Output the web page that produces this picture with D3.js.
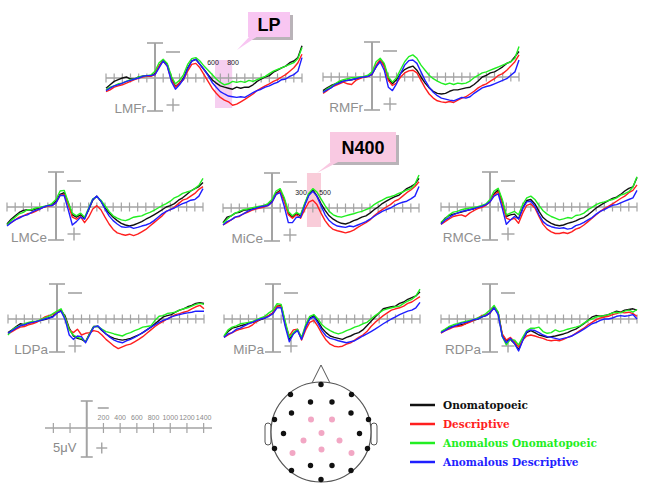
<!DOCTYPE html>
<html><head><meta charset="utf-8">
<script src="https://cdn.jsdelivr.net/npm/d3@7"></script>
<style>html,body{margin:0;padding:0;background:#fff;} svg{display:block;}</style>
</head><body>
<svg id="c" width="645" height="491"></svg>
<script>
// ---------- DATA ----------
const times = d3.range(-600, 1801, 50); // ms, sampling of every waveform
const conditions = ["Onomatopoeic", "Descriptive", "Anomalous Onomatopoeic", "Anomalous Descriptive"];
const condColors = ["#111111", "#ff1f1f", "#22ee22", "#1f1fff"];
const electrodes = ["LMFr", "RMFr", "LMCe", "MiCe", "RMCe", "LDPa", "MiPa", "RDPa"];

// amplitudes in microvolts (negative plotted up)
const LMFr_ON = [1.5,1.0,0.5,0.25,0,-0.15,0.15,0.15,-0.15,-0.25,-0.35,-0.35,-0.65,-1.75,-2.65,-2.0,0,1.25,0.75,0,-1.5,-2.5,-2.75,-2.0,-1.25,-0.5,0.25,0.75,1.15,1.35,1.5,1.65,1.35,1.5,1.35,1.35,1.0,0.5,0.15,-0.15,-0.35,-0.85,-1.15,-1.5,-1.75,-2.25,-2.5,-3.0,-4.75];
const LMFr_DE = [2.0,1.75,1.35,1.15,1.0,0.75,0.5,0.25,0,-0.15,-0.25,-0.25,-0.5,-1.75,-2.5,-1.75,0.25,1.35,0.75,0.25,-1.0,-2.0,-2.15,-1.5,-0.5,0.5,1.5,2.25,2.85,3.25,3.5,4.0,3.85,3.5,3.15,2.75,2.35,1.85,1.5,1.15,0.85,0.5,0.25,-0.15,-0.5,-1.0,-1.5,-2.25,-3.5];
const LMFr_AO = [1.75,1.35,1.15,0.85,0.75,0.5,0.25,0.15,-0.15,-0.25,-0.35,-0.45,-1.0,-2.25,-2.75,-2.15,-0.25,0.85,0.35,-0.5,-2.0,-2.85,-3.0,-2.5,-1.75,-1.15,-0.5,0.15,0.65,1.0,0.85,0.5,0.65,0.5,0.65,0.35,0.5,0.25,0,-0.25,-0.65,-1.0,-1.25,-1.5,-1.75,-2.0,-2.25,-2.85,-4.5];
const LMFr_AD = [1.85,1.5,1.15,1.0,0.75,0.5,0.35,0.15,0,-0.25,-0.35,-0.35,-0.5,-1.5,-2.5,-1.75,0.5,1.65,1.0,0.15,-1.35,-2.5,-2.75,-2.0,-1.25,-0.35,0.65,1.35,2.0,2.35,2.65,2.75,2.85,2.75,2.85,2.5,2.15,1.85,1.65,1.35,1.15,0.85,0.65,0.25,0.15,-0.25,-0.5,-1.0,-3.0];

const RMFr_ON = [2.0,1.6,1.25,1.0,0.75,0.6,0.5,0.4,0.25,0.1,0,-0.1,-0.4,-1.5,-2.5,-1.75,0.25,1.0,0.4,-0.5,-1.1,-1.4,-1.6,-1.0,0,0.9,1.6,2.1,2.4,2.5,2.4,2.1,1.9,1.9,1.75,1.6,1.5,1.1,0.6,0,-0.25,-0.6,-0.75,-1.1,-1.5,-2.0,-2.25,-3.0,-3.75];
const RMFr_DE = [2.4,2.0,1.5,1.25,1.0,0.75,1.0,1.1,0.5,0.25,0,-0.1,-0.4,-1.75,-2.6,-1.5,0.5,1.25,0.9,0,-0.6,-0.9,-1.0,-0.6,0.5,1.6,2.5,3.1,3.5,3.65,3.75,3.6,3.75,3.4,3.1,2.9,2.5,2.1,1.6,1.25,1.0,0.6,0.25,-0.25,-0.5,-1.0,-1.6,-2.25,-3.25];
const RMFr_AO = [2.25,1.75,1.4,1.0,0.6,0.4,0.25,0.1,0.1,0,-0.1,-0.25,-0.75,-2.25,-2.75,-2.0,0,0.75,0.1,-1.1,-2.25,-3.0,-3.25,-2.75,-1.75,-1.0,-0.25,0.25,0.6,0.9,1.1,0.9,1.1,0.9,1.0,0.9,0.6,0.1,-0.25,-0.6,-0.75,-1.0,-1.25,-1.5,-1.75,-2.0,-2.25,-2.75,-4.5];
const RMFr_AD = [2.25,1.9,1.6,1.1,0.9,0.6,0.5,0.4,0.25,0.1,0,-0.1,-0.4,-1.5,-2.25,-1.0,1.5,2.0,1.0,-0.5,-1.75,-2.4,-2.5,-2.0,-0.75,0.5,1.5,2.25,2.75,3.1,3.25,3.4,3.5,3.25,3.0,3.1,2.9,2.4,2.0,1.6,1.4,1.25,1.0,0.75,0.5,0.25,-0.25,-0.75,-2.5];

const LMCe_ON = [2.5,1.8,1.3,0.8,0.5,0.4,0.5,0.3,0.15,0,-0.2,-0.35,-0.85,-1.85,-2.1,-0.6,1.15,1.5,1.15,1.65,0.4,-1.0,-1.6,-0.85,0.15,0.9,1.5,2.0,2.4,2.65,2.8,2.65,2.4,2.15,1.8,1.5,1.15,0.8,0.4,0,-0.2,-0.5,-1.0,-1.35,-1.85,-2.35,-2.7,-3.0,-3.6];
const LMCe_DE = [2.65,2.3,1.9,1.5,1.3,1.0,0.9,0.65,0.3,0,-0.1,-0.2,-0.6,-1.7,-1.85,-0.35,1.5,1.8,1.4,2.3,1.5,0.3,-0.2,0.4,1.5,2.5,3.3,3.8,4.0,4.15,4.0,4.2,4.0,3.65,3.3,2.8,2.3,1.8,1.3,0.65,0.4,0,-0.5,-1.0,-1.2,-1.6,-2.0,-2.6,-3.0];
const LMCe_AO = [2.65,2.0,1.5,1.0,0.8,0.4,0.4,0.15,0.05,-0.1,-0.2,-0.5,-1.1,-2.35,-2.45,-0.7,0.9,1.3,0.9,1.5,0.15,-1.2,-1.5,-1.0,-0.2,0.65,1.3,1.65,1.9,2.0,1.8,1.5,1.4,1.3,1.0,0.8,0.5,0.15,-0.2,-0.5,-0.85,-1.35,-1.6,-2.0,-2.2,-2.35,-2.7,-3.2,-4.2];
const LMCe_AD = [2.8,2.3,1.9,1.65,1.3,1.15,0.8,0.5,0.3,0,-0.2,-0.2,-0.6,-1.7,-1.7,0.4,2.65,2.15,1.5,1.8,0.3,-1.1,-1.6,-0.85,0.3,1.3,2.0,2.5,2.9,3.0,2.9,3.15,3.0,2.8,2.65,2.4,2.0,1.5,1.0,0.65,0.4,0.15,-0.2,-0.5,-0.7,-1.0,-1.1,-1.6,-2.7];

const MiCe_ON = [2.15,1.35,1.15,0.75,0.65,0.35,0.25,0.15,0,-0.15,-0.35,-0.5,-1.0,-2.15,-2.6,-1.25,0.75,1.35,0.75,1.15,-0.5,-2.0,-2.65,-1.75,-0.65,0.35,1.15,1.65,2.0,2.25,2.35,2.15,1.85,1.65,1.35,1.15,0.75,0.25,-0.15,-0.65,-1.0,-1.35,-1.65,-1.85,-2.35,-2.85,-3.15,-3.5,-4.35];
const MiCe_DE = [2.5,2.15,1.75,1.35,1.25,0.85,0.65,0.35,0.15,0,-0.15,-0.35,-0.85,-2.0,-2.45,-1.0,1.0,1.5,1.0,1.5,0.25,-0.85,-1.15,-0.5,0.75,1.85,2.65,3.15,3.35,3.5,3.65,3.5,3.25,2.85,2.5,2.15,1.75,1.15,0.65,0.25,-0.15,-0.5,-1.0,-1.25,-1.75,-2.25,-2.65,-3.15,-3.85];
const MiCe_AO = [2.25,1.65,1.15,0.75,0.5,0.25,0.15,0,-0.15,-0.25,-0.35,-0.65,-1.25,-2.5,-2.85,-1.5,0.5,1.15,0.65,1.0,-0.65,-2.15,-2.85,-2.35,-1.35,-0.35,0.5,1.0,1.25,1.35,1.15,1.0,0.85,0.65,0.5,0.25,0,-0.5,-0.85,-1.15,-1.5,-1.65,-1.85,-2.15,-2.35,-2.65,-2.85,-3.5,-4.85];
const MiCe_AD = [2.5,2.0,1.75,1.35,1.15,0.85,0.5,0.25,0.05,-0.15,-0.25,-0.35,-0.85,-2.0,-2.25,-0.25,2.15,2.15,1.35,1.35,-0.35,-1.85,-2.45,-1.75,-0.35,1.0,1.85,2.35,2.65,2.75,2.85,2.65,2.75,2.5,2.25,2.0,1.65,1.25,0.85,0.5,0.25,0,-0.35,-0.65,-0.85,-1.0,-1.35,-1.75,-3.15];

const RMCe_ON = [2.4,1.65,1.25,1.05,0.9,0.75,0.55,0.4,0.25,0.05,-0.1,-0.35,-0.85,-1.95,-2.55,-0.85,1.4,1.15,1.05,1.75,0.15,-0.95,-1.1,-0.45,0.65,1.55,2.05,2.4,2.65,2.75,2.65,2.4,2.25,2.05,1.75,1.55,1.15,0.65,0.15,-0.25,-0.6,-0.95,-1.25,-1.45,-1.85,-2.35,-2.75,-2.95,-4.35];
const RMCe_DE = [2.55,2.15,1.75,1.4,1.25,1.15,1.4,0.9,0.55,0.25,0.05,-0.25,-0.75,-1.75,-2.25,-0.45,1.65,1.9,1.65,2.4,0.9,-0.25,-0.45,0.15,1.4,2.55,3.25,3.65,3.9,3.9,3.75,3.9,3.65,3.25,3.05,2.65,2.15,1.65,1.15,0.65,0.25,-0.1,-0.45,-0.85,-1.25,-1.6,-2.1,-2.45,-3.25];
const RMCe_AO = [2.25,1.75,1.15,0.75,0.65,0.4,0.25,0.15,0.05,-0.05,-0.25,-0.45,-1.1,-2.35,-2.75,-1.1,1.15,0.9,0.65,1.15,-0.35,-1.35,-1.6,-1.1,-0.25,0.55,1.05,1.4,1.65,1.9,1.75,1.55,1.65,1.25,1.15,0.9,0.4,0.05,-0.35,-0.6,-0.75,-0.95,-1.1,-1.35,-1.75,-1.95,-2.25,-2.95,-4.45];
const RMCe_AD = [2.55,1.9,1.55,1.15,0.9,0.65,0.55,0.4,0.25,0.05,-0.1,-0.35,-0.75,-1.6,-1.95,0.15,2.55,1.9,1.4,1.75,0.25,-0.75,-0.85,-0.1,1.15,2.15,2.65,2.9,3.05,3.15,3.05,3.25,3.15,2.75,2.55,2.25,1.9,1.55,1.05,0.65,0.4,0.05,-0.25,-0.35,-0.6,-0.85,-1.1,-1.35,-2.45];

const LDPa_ON = [2.0,1.6,1.1,0.7,0.85,0.6,0.5,0.35,0.2,0.1,-0.15,-0.4,-0.9,-1.3,-0.4,1.35,2.5,2.85,3.0,3.35,2.1,1.1,1.1,1.7,2.2,2.6,2.85,3.0,3.1,3.0,2.85,2.6,2.35,2.0,1.6,1.2,0.7,0.2,-0.3,-0.5,-0.65,-1.0,-1.3,-1.5,-1.8,-2.0,-2.3,-2.4,-2.3];
const LDPa_DE = [2.2,1.85,1.5,1.2,1.1,0.85,0.7,0.5,0.1,-0.3,-0.5,-0.65,-1.0,-1.15,-0.15,1.6,2.0,1.5,2.35,2.1,2.0,1.7,1.85,2.35,3.0,3.5,4.0,4.35,4.1,3.85,3.7,3.35,3.0,2.6,2.1,1.6,1.1,0.7,0.35,0,-0.3,-0.65,-0.8,-1.0,-1.15,-1.5,-1.8,-2.0,-1.5];
const LDPa_AO = [2.35,1.6,1.2,1.0,0.7,0.5,0.35,0.35,0.1,-0.15,-0.4,-0.8,-1.15,-1.5,-0.15,1.6,2.35,2.7,2.85,3.35,2.2,1.1,1.1,1.5,1.85,2.0,2.2,2.35,2.5,2.2,2.0,1.7,1.5,1.2,1.1,1.0,0.2,-0.4,-0.5,-0.8,-0.9,-1.0,-1.3,-1.5,-1.65,-1.9,-2.15,-2.3,-2.15];
const LDPa_AD = [2.1,1.7,1.35,1.0,0.85,0.6,0.5,0.35,0.2,0,-0.15,-0.3,-0.9,-1.15,0.1,2.35,3.0,2.5,2.6,3.5,2.35,1.2,1.0,1.6,2.2,2.7,3.1,3.35,3.5,3.2,3.0,2.7,2.35,2.0,1.6,1.2,0.85,0.5,0.2,0,-0.3,-0.5,-0.65,-0.8,-0.9,-1.0,-1.15,-1.15,-1.15];

const MiPa_ON = [2.6,1.85,1.35,1.2,1.0,0.85,0.6,0.5,0.35,0.1,-0.15,-0.5,-0.9,-1.9,-2.0,0.6,3.0,2.1,1.6,2.85,1.1,-0.15,-0.5,0.35,1.35,2.0,2.5,2.7,2.85,3.0,2.7,2.5,2.2,2.0,1.6,1.0,0.35,-0.3,-0.9,-1.5,-1.65,-1.8,-1.9,-2.3,-2.5,-2.9,-3.15,-3.4,-4.0];
const MiPa_DE = [2.7,2.35,2.0,1.7,1.5,1.35,1.2,0.85,0.35,0,-0.3,-0.5,-0.9,-1.9,-1.9,0.85,2.5,1.6,1.5,3.1,1.6,0.5,0.2,1.1,2.2,3.1,3.7,4.0,4.1,4.0,3.7,3.5,3.1,2.7,2.35,1.85,1.1,0.5,0,-0.5,-0.9,-1.3,-1.5,-1.65,-1.9,-2.3,-2.5,-2.9,-3.3];
const MiPa_AO = [2.5,1.6,1.2,1.0,0.7,0.6,0.5,0.35,0.1,-0.15,-0.4,-0.9,-1.3,-2.25,-2.15,0.35,2.7,2.0,1.5,2.7,0.85,-0.4,-0.65,0,0.85,1.35,1.7,2.0,2.2,2.0,1.7,1.5,1.2,1.0,0.7,0.5,0,-0.5,-0.9,-1.3,-1.5,-1.65,-1.8,-1.9,-2.3,-2.65,-2.9,-3.4,-4.4];
const MiPa_AD = [2.7,2.2,2.0,1.5,1.35,1.0,0.7,0.5,0.2,0,-0.15,-0.4,-0.8,-1.65,-1.65,1.1,3.35,2.2,1.7,3.0,1.2,0,-0.3,0.6,1.7,2.5,2.85,3.0,3.2,3.35,3.5,3.35,3.2,2.85,2.5,2.2,1.85,1.5,1.1,0.7,0.35,0,-0.3,-0.65,-0.9,-1.15,-1.3,-1.65,-2.45];

const RDPa_ON = [2.0,1.6,1.2,1.1,1.0,0.85,0.7,0.35,0.2,0,-0.3,-0.5,-0.9,-1.8,-0.9,2.35,3.2,3.0,3.6,4.5,3.1,2.0,1.7,2.0,2.35,2.5,2.7,2.6,2.5,2.35,2.2,2.0,1.7,1.5,1.1,0.7,0.2,-0.3,-0.5,-0.4,-0.5,-0.65,-0.9,-1.15,-1.0,-1.3,-1.4,-1.5,-1.3];
const RDPa_DE = [2.1,1.7,1.5,1.2,1.1,1.0,0.7,0.5,0.2,-0.15,-0.5,-0.65,-0.9,-1.65,-0.9,2.2,3.1,2.7,3.35,4.1,3.1,2.5,2.35,2.5,2.7,2.85,3.1,3.2,3.1,3.2,3.0,2.7,2.5,2.1,1.7,1.35,0.85,0.5,0.1,-0.15,-0.3,-0.4,-0.65,-0.8,-1.0,-0.9,-1.0,-0.8,-0.4];
const RDPa_AO = [1.85,1.5,1.1,0.85,0.7,0.5,0.35,0.2,0.1,-0.15,-0.4,-0.8,-1.3,-2.0,-1.0,2.55,3.8,3.0,3.1,3.8,2.7,1.7,1.35,1.35,1.2,1.85,2.1,2.0,1.6,1.85,1.7,1.5,1.35,1.2,1.0,0.6,0.2,0,-0.3,-0.4,-0.5,-0.65,-0.9,-1.0,-0.9,-1.15,-1.3,-1.0,-1.4];
const RDPa_AD = [2.0,1.7,1.35,1.1,0.85,0.6,0.5,0.35,0.1,0,-0.3,-0.5,-0.9,-1.65,-0.65,2.55,3.5,2.85,3.6,4.7,3.2,1.85,1.6,1.7,2.0,2.35,2.6,2.7,2.85,3.0,2.85,2.7,2.5,2.2,1.85,1.5,1.1,0.7,0.5,0.2,0,0,-0.15,-0.4,-0.5,-0.4,-0.5,-0.65,0];

const seriesByElectrode = {
  LMFr: [LMFr_ON, LMFr_DE, LMFr_AO, LMFr_AD],
  RMFr: [RMFr_ON, RMFr_DE, RMFr_AO, RMFr_AD],
  LMCe: [LMCe_ON, LMCe_DE, LMCe_AO, LMCe_AD],
  MiCe: [MiCe_ON, MiCe_DE, MiCe_AO, MiCe_AD],
  RMCe: [RMCe_ON, RMCe_DE, RMCe_AO, RMCe_AD],
  LDPa: [LDPa_ON, LDPa_DE, LDPa_AO, LDPa_AD],
  MiPa: [MiPa_ON, MiPa_DE, MiPa_AO, MiPa_AD],
  RDPa: [RDPa_ON, RDPa_DE, RDPa_AO, RDPa_AD]
};

// highlighted analysis windows (ms) and their printed labels
const windows = [
  {electrode: "LMFr", start: 735, end: 945, labels: ["600", "800"], labelAt: [710, 955], title: "LP"},
  {electrode: "MiCe", start: 428, end: 600, labels: ["300", "500"], labelAt: [355, 649], title: "N400"}
];

// scale-bar panel
const scaleTicks = [-400, -200, 200, 400, 600, 800, 1000, 1200, 1400];
const scaleLabels = ["200", "400", "600", "800", "1000", "1200", "1400"];

// electrode montage (normalized head coords, x right, y down; pink = shown sites)
const montageBlack = [[0,-0.95],[-0.61,-0.75],[0.61,-0.75],[-0.21,-0.6],[0.22,-0.6],[-0.59,-0.38],[0.6,-0.38],[-0.93,-0.25],[0.95,-0.25],[-0.75,0.03],[0.77,0.03],[-0.93,0.33],[0.93,0.33],[-0.59,0.77],[0.6,0.77],[-0.21,0.67],[0.22,0.67],[0,0.95]];
const montagePink = [[-0.2,-0.25],[0.22,-0.25],[0.01,0.02],[-0.35,0.17],[0.37,0.17],[0.01,0.35],[-0.57,0.42],[0.61,0.42]];

// ---------- LAYOUT ----------
const panelPos = {
  LMFr: {x: 155, y: 78}, RMFr: {x: 372, y: 77},
  LMCe: {x: 56, y: 207}, MiCe: {x: 272, y: 208}, RMCe: {x: 490, y: 207},
  LDPa: {x: 57, y: 319}, MiPa: {x: 273, y: 319}, RDPa: {x: 490, y: 319}
};
const AX = "#a3a3a3";
const svg = d3.select("#c");

function drawFrame(g, x, zeroX, axisY, tickVals, opt) {
  const [x0, x1] = x.range();
  g.append("line").attr("x1", x0).attr("x2", x1).attr("y1", axisY).attr("y2", axisY)
    .attr("stroke", AX).attr("stroke-width", 1.6);
  g.selectAll(null).data(tickVals).join("line")
    .attr("x1", d => x(d)).attr("x2", d => x(d))
    .attr("y1", axisY - opt.tick).attr("y2", axisY + opt.tick)
    .attr("stroke", AX).attr("stroke-width", 1.2);
  // vertical voltage axis
  g.append("line").attr("x1", zeroX).attr("x2", zeroX).attr("y1", axisY - opt.up).attr("y2", axisY + opt.down)
    .attr("stroke", AX).attr("stroke-width", 2);
  [axisY - opt.up, axisY + opt.down].forEach(yy => g.append("line")
    .attr("x1", zeroX - opt.cap).attr("x2", zeroX + opt.cap).attr("y1", yy).attr("y2", yy)
    .attr("stroke", AX).attr("stroke-width", 1.6));
  // minus sign
  g.append("line").attr("x1", zeroX + opt.mx0).attr("x2", zeroX + opt.mx1)
    .attr("y1", axisY - opt.my).attr("y2", axisY - opt.my).attr("stroke", AX).attr("stroke-width", 1.6);
  // plus sign
  const pcx = zeroX + opt.px, pcy = axisY + opt.py;
  g.append("line").attr("x1", pcx - opt.pa).attr("x2", pcx + opt.pa).attr("y1", pcy).attr("y2", pcy).attr("stroke", AX).attr("stroke-width", 1.4);
  g.append("line").attr("x1", pcx).attr("x2", pcx).attr("y1", pcy - opt.pa).attr("y2", pcy + opt.pa).attr("stroke", AX).attr("stroke-width", 1.4);
}

const panelOpt = {tick: 4.5, up: 35, down: 33, cap: 8, mx0: 11, mx1: 25, my: 26, px: 18, py: 27, pa: 6.5};
const tickTimes = d3.range(-600, 1801, 100);

electrodes.forEach(name => {
  const p = panelPos[name];
  const x = d3.scaleLinear().domain([-600, 1800]).range([p.x - 49, p.x + 147]);
  const y = d3.scaleLinear().domain([-5, 5]).range([p.y - 34, p.y + 34]);
  const g = svg.append("g");

  // analysis window strip (beneath everything)
  windows.filter(w => w.electrode === name).forEach(w => {
    const isLP = w.title === "LP";
    g.append("rect").attr("x", x(w.start)).attr("width", x(w.end) - x(w.start))
      .attr("y", isLP ? p.y - 18 : p.y - 35).attr("height", isLP ? 48 : 54)
      .attr("fill", isLP ? "#f6cff0" : "#f9ccd9");
  });

  drawFrame(g, x, p.x, p.y, tickTimes, panelOpt);

  g.append("text").attr("x", p.x - 9).attr("y", p.y + 35).attr("text-anchor", "end")
    .attr("font-family", "Liberation Sans, Arial, sans-serif").attr("font-size", 13.5)
    .attr("fill", "#8f8f8f").text(name);

  const line = d3.line().x((d) => x(d[0])).y(d => y(d[1]));
  seriesByElectrode[name].forEach((vals, ci) => {
    const pts = vals.slice(0, times.length).map((v, i) => [times[i], v]);
    g.append("path").attr("d", line(pts)).attr("fill", "none")
      .attr("stroke", condColors[ci]).attr("stroke-width", 1.4).attr("stroke-linejoin", "round");
  });

  windows.filter(w => w.electrode === name).forEach(w => {
    w.labels.forEach((lab, i) => g.append("text").attr("x", x(w.labelAt[i])).attr("y", p.y - 13)
      .attr("text-anchor", "middle").attr("font-family", "Liberation Sans, Arial, sans-serif")
      .attr("font-size", 7).attr("fill", "#222").text(lab));
  });
});

// callout boxes
function callout(bx, by, bw, bh, tip, fill, label) {
  const g = svg.append("g");
  g.append("rect").attr("x", bx + 3).attr("y", by + 3).attr("width", bw).attr("height", bh).attr("fill", "#b9b3b8");
  g.append("polygon").attr("points", `${bx + 2},${by + bh - 1} ${bx + 10},${by + bh - 1} ${tip[0]},${tip[1]}`).attr("fill", fill);
  g.append("rect").attr("x", bx).attr("y", by).attr("width", bw).attr("height", bh).attr("fill", fill);
  g.append("text").attr("x", bx + bw / 2).attr("y", by + bh / 2 + 6.5).attr("text-anchor", "middle")
    .attr("font-family", "Liberation Sans, Arial, sans-serif").attr("font-weight", "bold")
    .attr("font-size", 18).attr("fill", "#000").text(label);
}
callout(248, 12, 42, 25, [237, 50], "#f8c6f2", "LP");
callout(330, 132, 66, 30, [317, 173], "#f9c9e2", "N400");

// scale bar panel
(function () {
  const zeroX = 86.5, axisY = 428;
  const x = d3.scaleLinear().domain([-500, 1500]).range([45, 212]);
  const g = svg.append("g");
  drawFrame(g, x, x(0), axisY, scaleTicks, {tick: 5, up: 27, down: 29, cap: 6, mx0: 11, mx1: 22, my: 20, px: 15, py: 20, pa: 5.5});
  g.selectAll(null).data(scaleLabels).join("text")
    .attr("x", d => x(+d)).attr("y", axisY - 8).attr("text-anchor", "middle")
    .attr("font-family", "Liberation Sans, Arial, sans-serif").attr("font-size", 7).attr("fill", "#8a8a8a").text(d => d);
  g.append("text").attr("x", 53).attr("y", 452).attr("font-family", "Liberation Sans, Arial, sans-serif")
    .attr("font-size", 13).attr("fill", "#8a8a8a").text("5μV");
})();

// head montage
(function () {
  const cx = 321, cy = 432, r = 50;
  const hx = d3.scaleLinear().domain([-1, 1]).range([cx - r, cx + r]);
  const hy = d3.scaleLinear().domain([-1, 1]).range([cy - r, cy + r]);
  const g = svg.append("g");
  const stroke = "#555";
  // ears
  [[265, 423], [371, 423]].forEach(([ex, ey]) => {
    g.append("rect").attr("x", ex).attr("y", ey).attr("width", 6).attr("height", 22).attr("rx", 3)
      .attr("fill", "#fff").attr("stroke", stroke).attr("stroke-width", 1);
  });
  g.append("polygon").attr("points", `${cx - 9},${cy - r + 1} ${cx},${cy - r - 17} ${cx + 9},${cy - r + 1}`)
    .attr("fill", "#fff").attr("stroke", stroke).attr("stroke-width", 1);
  g.append("circle").attr("cx", cx).attr("cy", cy).attr("r", r).attr("fill", "#fff").attr("stroke", stroke).attr("stroke-width", 1.2);
  g.selectAll(null).data(montageBlack).join("circle").attr("cx", d => hx(d[0])).attr("cy", d => hy(d[1])).attr("r", 2.7).attr("fill", "#111");
  g.selectAll(null).data(montagePink).join("circle").attr("cx", d => hx(d[0])).attr("cy", d => hy(d[1])).attr("r", 3).attr("fill", "#f2a7c4");
})();

// legend
(function () {
  const g = svg.append("g");
  const y0 = 405, dy = 19;
  const legendText = ["#111111", "#ff1f1f", "#22ee22", "#1f1fff"];
  conditions.forEach((c, i) => {
    g.append("line").attr("x1", 410).attr("x2", 435).attr("y1", y0 + i * dy).attr("y2", y0 + i * dy)
      .attr("stroke", condColors[i]).attr("stroke-width", 2.5);
    g.append("text").attr("x", 443).attr("y", y0 + i * dy + 4).attr("font-family", "DejaVu Serif, serif")
      .attr("font-weight", "bold").attr("font-size", 10.5).attr("fill", legendText[i]).text(c);
  });
})();
</script>
</body></html>
